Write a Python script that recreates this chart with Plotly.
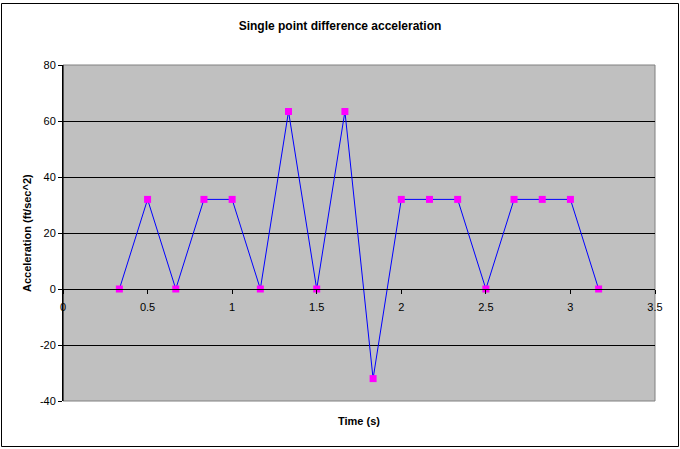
import plotly.graph_objects as go

time_s = [0.3333, 0.5, 0.6667, 0.8333, 1.0, 1.1667, 1.3333, 1.5, 1.6667,
          1.8333, 2.0, 2.1667, 2.3333, 2.5, 2.6667, 2.8333, 3.0, 3.1667]
accel = [0, 32, 0, 32, 32, 0, 63.4, 0, 63.4, -32, 32, 32, 32, 0, 32, 32, 32, 0]

x_ticks = [0, 0.5, 1, 1.5, 2, 2.5, 3, 3.5]
x_tick_text = ["0", "0.5", "1", "1.5", "2", "2.5", "3", "3.5"]
y_ticks = [-40, -20, 0, 20, 40, 60, 80]
y_tick_text = ["-40", "-20", "0", "20", "40", "60", "80"]

FONT = "Liberation Sans, Arial, sans-serif"

fig = go.Figure()
fig.add_trace(go.Scatter(
    x=time_s, y=accel, mode="lines+markers",
    line=dict(color="#0000FF", width=1),
    marker=dict(symbol="square", size=7, color="#FF00FF", line=dict(width=0)),
    showlegend=False,
))

W, H = 680, 449
L, R, T, B = 63, 25, 65, 48
pw, ph = W - L - R, H - T - B

fig.update_layout(
    width=W, height=H,
    margin=dict(l=L, r=R, t=T, b=B, pad=0),
    paper_bgcolor="white",
    plot_bgcolor="#C0C0C0",
    font=dict(family=FONT, size=11, color="black"),
    title=dict(text="<b>Single point difference acceleration</b>",
               x=0.5, xanchor="center", y=1 - 26 / H, yanchor="middle",
               font=dict(size=12, family=FONT, color="black")),
    xaxis=dict(range=[0, 3.5], tickvals=x_ticks, ticktext=x_tick_text,
               showgrid=False, zeroline=False,
               showline=True, linecolor="black", linewidth=1,
               ticks="outside", ticklen=4, tickcolor="black",
               ticklabelstandoff=4,
               anchor="free", position=1 / 3,
               tickfont=dict(size=11, family=FONT)),
    yaxis=dict(range=[-40, 80], tickvals=y_ticks, ticktext=y_tick_text,
               showgrid=True, gridcolor="black", gridwidth=1,
               zeroline=False,
               showline=True, linecolor="black", linewidth=1,
               ticks="outside", ticklen=4, tickcolor="black",
               tickfont=dict(size=11, family=FONT)),
    shapes=[
        dict(type="rect", xref="paper", yref="paper", x0=0, x1=1, y0=0, y1=1,
             line=dict(color="#808080", width=1), layer="between"),
        dict(type="line", xref="paper", yref="paper", x0=0, x1=0, y0=0, y1=1,
             line=dict(color="black", width=1), layer="above"),
        dict(type="rect", xref="paper", yref="paper",
             x0=(1.5 - L) / pw, x1=(678.5 - L) / pw,
             y0=(H - B - 446.5) / ph, y1=(H - B - 3.5) / ph,
             line=dict(color="black", width=1), layer="above"),
    ],
    annotations=[
        dict(text="<b>Time (s)</b>", xref="paper", yref="paper",
             x=0.5, y=(H - B - 421) / ph, xanchor="center", yanchor="middle",
             showarrow=False, font=dict(size=11, family=FONT)),
        dict(text="<b>Acceleration (ft/sec^2)</b>", xref="paper", yref="paper",
             x=(27 - L) / pw, y=0.5, xanchor="center", yanchor="middle",
             textangle=-90, showarrow=False, font=dict(size=11, family=FONT)),
    ],
)

fig.write_html(
    "out.html",
    config={"displayModeBar": False},
    post_script="document.body.style.margin='0';document.body.style.overflow='hidden';",
)
